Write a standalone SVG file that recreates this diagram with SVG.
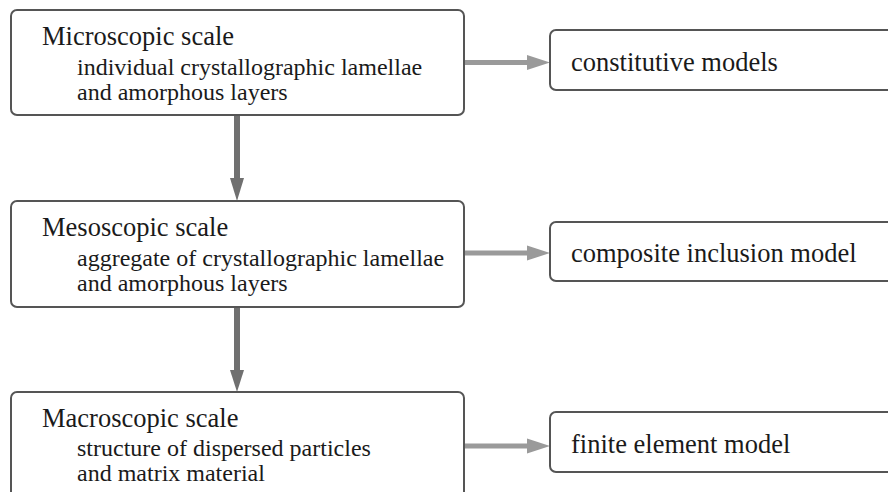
<svg xmlns="http://www.w3.org/2000/svg" width="888" height="492" viewBox="0 0 888 492">
<style>
.box{fill:#fff;stroke:#555;stroke-width:2}
.t{font-family:"Liberation Serif","Times New Roman",serif;font-size:26.5px;fill:#1a1a1a}
.s{font-family:"Liberation Serif","Times New Roman",serif;font-size:24px;fill:#1a1a1a}
.v{stroke:#707070;stroke-width:6;fill:none}
.h{stroke:#9a9a9a;stroke-width:5;fill:none}
</style>
<rect width="888" height="492" fill="#fff"/>
<g id="connectors">
<line class="v" x1="237" y1="115" x2="237" y2="180"/>
<polygon points="230,178 244,178 237,201" fill="#707070"/>
<line class="v" x1="237" y1="307" x2="237" y2="372"/>
<polygon points="230,370 244,370 237,392" fill="#707070"/>
<line class="h" x1="465" y1="62.5" x2="530" y2="62.5"/>
<polygon points="527,55 527,70 550,62.5" fill="#9a9a9a"/>
<line class="h" x1="465" y1="253" x2="530" y2="253"/>
<polygon points="527,245.5 527,260.5 550,253" fill="#9a9a9a"/>
<line class="h" x1="465" y1="446" x2="530" y2="446"/>
<polygon points="527,438.5 527,453.5 550,446" fill="#9a9a9a"/>
</g>
<g id="micro">
<rect class="box" x="11" y="10" width="453" height="105" rx="6"/>
<text class="t" x="42" y="45">Microscopic scale</text>
<text class="s" x="77" y="75">individual crystallographic lamellae</text>
<text class="s" x="77" y="100">and amorphous layers</text>
</g>
<g id="meso">
<rect class="box" x="11" y="201" width="453" height="106" rx="6"/>
<text class="t" x="42" y="236">Mesoscopic scale</text>
<text class="s" x="77" y="266">aggregate of crystallographic lamellae</text>
<text class="s" x="77" y="291">and amorphous layers</text>
</g>
<g id="macro">
<rect class="box" x="11" y="392" width="453" height="110" rx="6"/>
<text class="t" x="42" y="427">Macroscopic scale</text>
<text class="s" x="77" y="456">structure of dispersed particles</text>
<text class="s" x="77" y="481">and matrix material</text>
</g>
<g id="constitutive">
<rect class="box" x="550" y="30" width="345" height="60" rx="6"/>
<text class="t" x="571" y="71">constitutive models</text>
</g>
<g id="composite">
<rect class="box" x="550" y="222" width="345" height="59" rx="6"/>
<text class="t" x="571" y="262">composite inclusion model</text>
</g>
<g id="fem">
<rect class="box" x="550" y="412" width="345" height="60" rx="6"/>
<text class="t" x="571" y="453">finite element model</text>
</g>
</svg>
